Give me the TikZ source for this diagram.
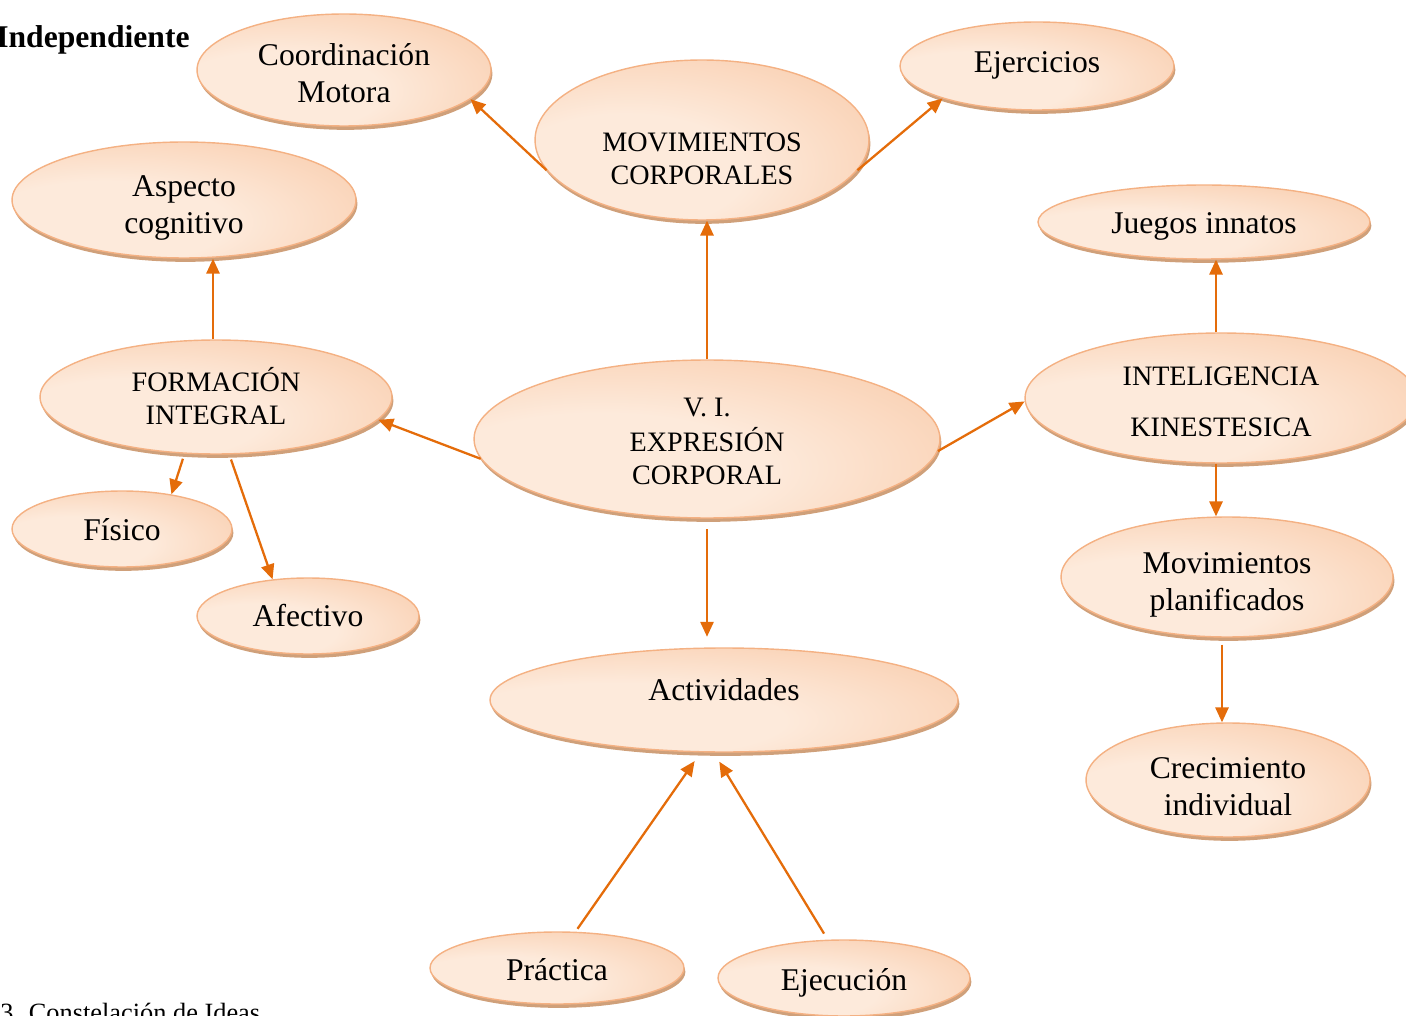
\documentclass[tikz,border=0pt]{standalone}
\usepackage{fontspec}
\setmainfont{Liberation Serif}
\usetikzlibrary{shapes.geometric,shadows,arrows.meta}

\definecolor{peachlight}{RGB}{253,234,219}
\definecolor{peachdark}{RGB}{247,190,150}
\definecolor{ideaborder}{RGB}{244,177,131}
\definecolor{ideashadow}{RGB}{207,160,122}
\definecolor{linkorange}{RGB}{228,108,10}

\pgfdeclareradialshading{peach}{\pgfpoint{-14bp}{-12bp}}{color(0bp)=(peachlight); color(18bp)=(peachlight); color(56bp)=(peachdark); color(100bp)=(peachdark)}

\newcommand{\ideatext}[2]{\raisebox{#1}[0pt][0pt]{\begin{tabular}{@{}c@{}}#2\end{tabular}}}

\tikzstyle{idea}=[ellipse, draw=ideaborder, line width=0.8pt, inner sep=0pt, shade, shading=peach, align=center, font=\fontsize{18}{21}\selectfont, drop shadow={shadow xshift=0.8pt, shadow yshift=-2.2pt, fill=ideashadow, opacity=1}]
\tikzstyle{caps}=[font=\fontsize{16}{19}\selectfont]
\tikzstyle{link}=[-{Triangle[length=8.5pt,width=7.5pt]}, draw=linkorange, line width=1.3pt]

\begin{document}
\begin{tikzpicture}[x=0.02cm, y=-0.02cm]
\useasboundingbox (0,0) rectangle (1406,1016);

% ideas
\node[idea, minimum width=5.88cm, minimum height=2.24cm] (coord) at (344,70) {\ideatext{-8.3pt}{Coordinación\\Motora}};
\node[idea, caps, minimum width=6.68cm, minimum height=3.20cm] (mov) at (702,140) {\ideatext{-16.3pt}{MOVIMIENTOS\\CORPORALES}};
\node[idea, minimum width=5.48cm, minimum height=1.76cm] (ejer) at (1037,66) {\ideatext{-4pt}{Ejercicios}};
\node[idea, minimum width=6.88cm, minimum height=2.32cm] (asp) at (184,200) {\ideatext{-8.9pt}{Aspecto\\cognitivo}};
\node[idea, minimum width=6.64cm, minimum height=1.48cm] (jue) at (1204,222) {\ideatext{-6.9pt}{Juegos innatos}};
\node[idea, caps, minimum width=7.04cm, minimum height=2.28cm] (form) at (216,397) {\ideatext{-6.6pt}{FORMACIÓN\\INTEGRAL}};
\node[idea, caps, minimum width=9.32cm, minimum height=3.16cm] (expr) at (707,439) {\ideatext{-7.2pt}{V. I.\\EXPRESIÓN\\CORPORAL}};
\node[idea, caps, minimum width=7.84cm, minimum height=2.60cm] (intel) at (1221,398) {\ideatext{-8.1pt}{INTELIGENCIA\\[10pt]KINESTESICA}};
\node[idea, minimum width=4.40cm, minimum height=1.52cm] (fis) at (122,529) {\ideatext{-6.9pt}{Físico}};
\node[idea, minimum width=4.44cm, minimum height=1.52cm] (afe) at (308,616) {\ideatext{-6.3pt}{Afectivo}};
\node[idea, minimum width=6.64cm, minimum height=2.40cm] (plan) at (1227,577) {\ideatext{-8.6pt}{Movimientos\\planificados}};
\node[idea, minimum width=9.36cm, minimum height=2.08cm] (act) at (724,700) {\ideatext{-0.6pt}{Actividades}};
\node[idea, minimum width=5.68cm, minimum height=2.28cm] (crec) at (1228,780) {\ideatext{-9.7pt}{Crecimiento\\individual}};
\node[idea, minimum width=5.08cm, minimum height=1.44cm] (prac) at (557,968) {\ideatext{-7.4pt}{Práctica}};
\node[idea, minimum width=5.04cm, minimum height=1.52cm] (exe) at (844,978) {\ideatext{-7.4pt}{Ejecución}};

% texts
\node[font=\bfseries\fontsize{18}{21}\selectfont, anchor=east, inner sep=0pt] (indep) at (190,40) {Independiente};
\node[font=\fontsize{15}{18}\selectfont, anchor=base west, inner sep=0pt] (fig) at (0,1021) {3. Constelación de Ideas};

% links
\draw[link] (mov.191) -- (coord.347);
\draw[link] (mov.349) -- (ejer.199);
\draw[link] (expr.north) -- (expr.north |- mov.south);
\draw[link] ([xshift=-0.06cm]form.north) -- ([xshift=-0.06cm]form.north |- asp.south);
\draw[link] (expr.185) -- (form.352);
\draw[link] (expr.357) -- (intel.181);
\draw[link] ([xshift=-0.1cm]intel.north) -- ([xshift=-0.1cm]intel.north |- jue.south);
\draw[link] ([xshift=-0.1cm]intel.south) -- ([xshift=-0.1cm]intel.south |- plan.north);
\draw[link, shorten <=4pt] ([xshift=-0.1cm]plan.south) -- ([xshift=-0.1cm]plan.south |- crec.north);
\draw[link, shorten <=3pt] (form.241) -- (fis.35);
\draw[link, shorten <=3pt] (form.283) -- (afe.134);
\draw[link, shorten <=6pt, shorten >=6pt] (expr.south) -- (expr.south |- act.north);
\draw[link, shorten <=2pt, shorten >=6pt] (prac.63) -- (act.246);
\draw[link, shorten <=4pt, shorten >=6pt] (exe.113) -- (act.259);
\end{tikzpicture}
\end{document}
